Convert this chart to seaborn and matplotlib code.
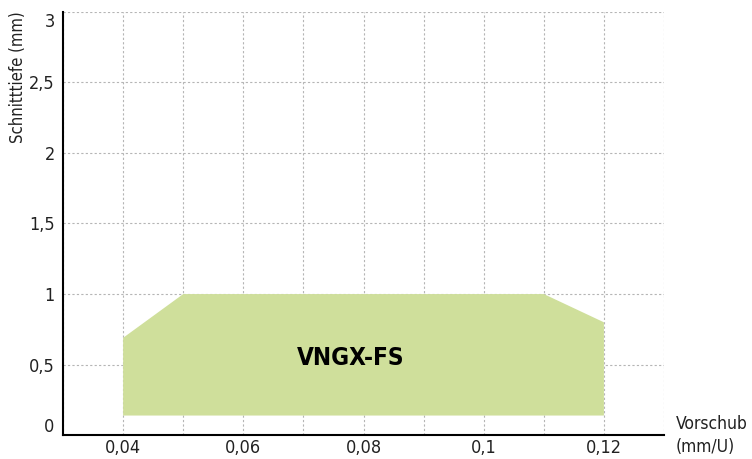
import matplotlib
matplotlib.use("Agg")
import matplotlib.pyplot as plt
import matplotlib.transforms as mtransforms
import seaborn as sns
from matplotlib.ticker import MultipleLocator

# Einsatzbereich (Vorschub mm/U, Schnitttiefe mm)
feed = [0.04, 0.04, 0.05, 0.11, 0.12, 0.12]
depth = [0.14, 0.69, 1.0, 1.0, 0.8, 0.14]
label = "VNGX-FS"
label_pos = (0.0778, 0.55)

x_ticks = [0.04, 0.06, 0.08, 0.1, 0.12]
x_labels = ["0,04", "0,06", "0,08", "0,1", "0,12"]
y_ticks = [0, 0.5, 1, 1.5, 2, 2.5, 3]
y_labels = ["0", "0,5", "1", "1,5", "2", "2,5", "3"]

sns.set_style("white")
plt.rcParams["font.family"] = ["DejaVu Sans"]
plt.rcParams["font.stretch"] = "condensed"

fig = plt.figure(figsize=(7.52, 4.59), dpi=100)
ax = fig.add_axes([0.0838, 0.0516, 0.7992, 0.9233])

ax.fill(feed, depth, color="#cfdf9b", lw=0, zorder=2)

ax.set_xlim(0.03, 0.13)
ax.set_ylim(0, 3)
ax.set_xticks(x_ticks)
ax.set_xticklabels(x_labels)
ax.xaxis.set_minor_locator(MultipleLocator(0.01))
ax.set_yticks(y_ticks)
ax.set_yticklabels(y_labels)
ax.tick_params(axis="both", which="both", length=0, labelsize=13, colors="#222222")
ax.tick_params(axis="x", pad=3)
ax.tick_params(axis="y", pad=6)

# end labels sit inside the axis range, as in the original
ylabs = ax.get_yticklabels()
ylabs[0].set_transform(ylabs[0].get_transform() + mtransforms.ScaledTranslation(0, 10 / 100, fig.dpi_scale_trans))
ylabs[-1].set_transform(ylabs[-1].get_transform() + mtransforms.ScaledTranslation(0, -8 / 100, fig.dpi_scale_trans))

ax.grid(True, which="both", color="#b5b5b5", linestyle=(0, (2, 2)), lw=0.8, zorder=1)
ax.set_axisbelow(True)

for s in ["top", "right"]:
    ax.spines[s].set_visible(False)
for s in ["left", "bottom"]:
    ax.spines[s].set_color("black")
    ax.spines[s].set_linewidth(1.5)
    ax.spines[s].set_zorder(3)

ax.text(label_pos[0], label_pos[1], label, ha="center", va="center",
        fontsize=17.5, fontweight="bold", color="black", zorder=4)

fig.text(0.024, 0.975, "Schnitttiefe (mm)", rotation=90, ha="center", va="top",
         fontsize=12, color="#222222")
fig.text(0.899, 0.006, "Vorschub\n(mm/U)", ha="left", va="bottom",
         fontsize=12.5, color="#222222", linespacing=1.4)

fig.savefig("out.png", dpi=100)
